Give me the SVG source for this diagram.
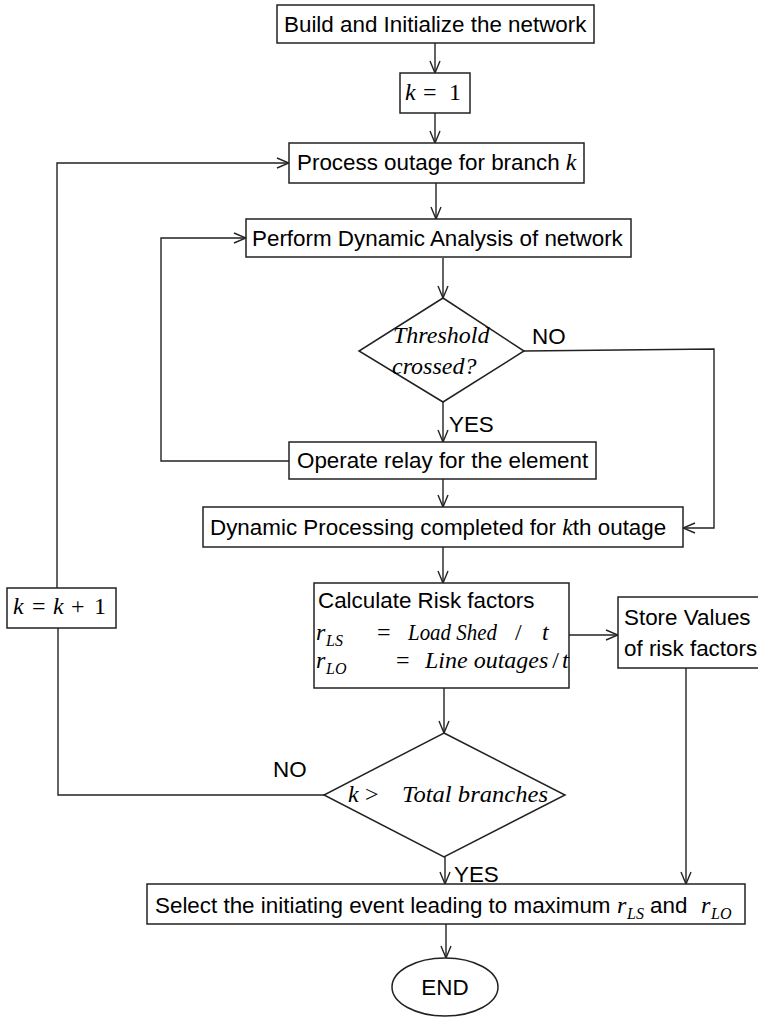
<svg xmlns="http://www.w3.org/2000/svg" width="758" height="1017" viewBox="0 0 758 1017">
<style>
.box{fill:#fff;stroke:#222;stroke-width:1.5}
.ln{fill:none;stroke:#222;stroke-width:1.4}
.arr{fill:none;stroke:#222;stroke-width:1.4;marker-end:url(#ah)}
.t{font-family:"Liberation Sans",Arial,sans-serif;font-size:22.4px;fill:#000}
.m{font-family:"Liberation Serif","Times New Roman",serif;font-style:italic;font-size:24px;fill:#000}
.mu{font-family:"Liberation Serif","Times New Roman",serif;font-style:normal;font-size:24px;fill:#000}
.s{font-family:"Liberation Serif","Times New Roman",serif;font-style:italic;font-size:16px;fill:#000}
</style>
<defs>
<marker id="ah" markerWidth="14" markerHeight="12" refX="13" refY="6" orient="auto" markerUnits="userSpaceOnUse">
<path d="M1,1 L13,6 L1,11" fill="none" stroke="#222" stroke-width="1.4"/>
</marker>
</defs>
<rect width="758" height="1017" fill="#fff"/>

<g id="connectors">
<line class="arr" x1="435" y1="43" x2="435" y2="73"/>
<line class="arr" x1="435" y1="113" x2="435" y2="143"/>
<line class="arr" x1="436" y1="183" x2="436" y2="219"/>
<line class="arr" x1="443" y1="258" x2="443" y2="298"/>
<line class="arr" x1="443" y1="402" x2="443" y2="442"/>
<line class="arr" x1="443" y1="479" x2="443" y2="507"/>
<line class="arr" x1="443" y1="547" x2="443" y2="583"/>
<line class="arr" x1="569" y1="635" x2="618" y2="635"/>
<line class="arr" x1="444" y1="688" x2="444" y2="733"/>
<line class="arr" x1="445" y1="857" x2="445" y2="884"/>
<line class="arr" x1="686" y1="668" x2="686" y2="884"/>
<line class="arr" x1="446" y1="924" x2="446" y2="958"/>
<polyline class="arr" points="524,351 714,349 714,528 683,528"/>
<polyline class="arr" points="289,461 161,461 161,238 246,238"/>
<polyline class="ln" points="324,795 58,795 58,628"/>
<polyline class="arr" points="57,588 57,163 289,163"/>
</g>

<g id="n_build">
<rect class="box" x="277" y="5" width="317" height="38"/>
<text class="t" x="284" y="32">Build and Initialize the network</text>
</g>

<g id="n_k1">
<rect class="box" x="400" y="73" width="70" height="40"/>
<text class="m" x="405" y="100" font-size="26">k</text>
<text class="mu" x="423" y="100" font-size="26">=</text>
<text class="mu" x="449" y="100" font-size="26">1</text>
</g>

<g id="n_process">
<rect class="box" x="289" y="143" width="295" height="40"/>
<text class="t" x="297" y="170">Process outage for branch <tspan class="m">k</tspan></text>
</g>

<g id="n_perform">
<rect class="box" x="246" y="219" width="385" height="38"/>
<text class="t" x="252" y="246">Perform Dynamic Analysis of network</text>
</g>

<g id="n_threshold">
<polygon class="box" points="443,298 524,351 443,402 359,351"/>
<text class="m" x="393" y="343">Threshold</text>
<text class="m" x="392" y="374">crossed?</text>
</g>
<text class="t" x="532" y="344">NO</text>
<text class="t" x="449" y="432">YES</text>

<g id="n_operate">
<rect class="box" x="289" y="442" width="307" height="37"/>
<text class="t" x="297" y="468">Operate relay for the element</text>
</g>

<g id="n_dynamic">
<rect class="box" x="203" y="507" width="480" height="40"/>
<text class="t" x="210" y="535">Dynamic Processing completed for <tspan class="m">k</tspan>th outage</text>
</g>

<g id="n_kk1">
<rect class="box" x="7" y="588" width="109" height="40"/>
<text class="m" x="13" y="614" font-size="26">k</text>
<text class="mu" x="32" y="614" font-size="26">=</text>
<text class="m" x="53" y="614" font-size="26">k</text>
<text class="mu" x="71" y="614" font-size="26">+</text>
<text class="mu" x="94" y="614" font-size="26">1</text>
</g>

<g id="n_calc">
<rect class="box" x="314" y="583" width="255" height="105"/>
<text class="t" x="318" y="608">Calculate Risk factors</text>
<text class="m" x="316" y="640">r</text>
<text class="s" x="326" y="646">LS</text>
<text class="mu" x="377" y="640">=</text>
<text class="m" x="408" y="640" textLength="89" lengthAdjust="spacingAndGlyphs">Load Shed</text>
<text class="mu" x="515" y="640">/</text>
<text class="m" x="542" y="640">t</text>
<text class="m" x="316" y="668">r</text>
<text class="s" x="326" y="674">LO</text>
<text class="mu" x="396" y="668">=</text>
<text class="m" x="425" y="668" font-size="22.5">Line outages<tspan class="mu" font-size="22.5" dx="4">/</tspan><tspan dx="3">t</tspan></text>
</g>

<g id="n_store">
<rect class="box" x="618" y="597" width="150" height="71"/>
<text class="t" x="624" y="625">Store Values</text>
<text class="t" x="624" y="656">of risk factors</text>
</g>

<g id="n_total">
<polygon class="box" points="444,733 565,795 444,857 324,795"/>
<text class="m" x="348" y="802">k</text>
<text class="mu" x="365" y="802">&gt;</text>
<text class="m" x="402" y="802" textLength="146" lengthAdjust="spacingAndGlyphs">Total branches</text>
</g>
<text class="t" x="273" y="777">NO</text>
<text class="t" x="454" y="882">YES</text>

<g id="n_select">
<rect class="box" x="147" y="884" width="598" height="40"/>
<text class="t" x="155" y="913">Select the initiating event leading to maximum</text>
<text class="m" x="617" y="913">r</text>
<text class="s" x="627" y="919">LS</text>
<text class="t" x="650" y="913">and</text>
<text class="m" x="701" y="913">r</text>
<text class="s" x="711" y="919">LO</text>
</g>

<g id="n_end">
<ellipse class="box" cx="445" cy="987" rx="53" ry="29"/>
<text class="t" x="445" y="995" text-anchor="middle">END</text>
</g>
</svg>
